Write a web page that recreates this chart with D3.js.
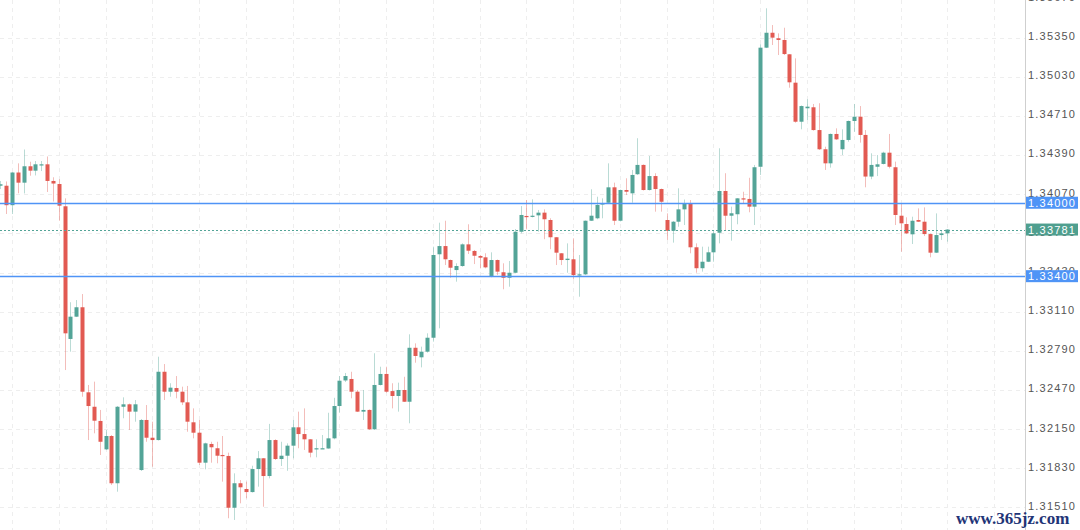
<!DOCTYPE html>
<html>
<head>
<meta charset="utf-8">
<script src="https://cdn.jsdelivr.net/npm/d3@7"></script>
<style>
  html, body { margin: 0; padding: 0; background: #fff; }
  #chart { width: 1080px; height: 530px; overflow: hidden; }
</style>
</head>
<body>
<div id="chart"></div>
<script>
// candle data, oldest first
var opens = [
  1.34139,1.34139,1.33980,1.34247,1.34164,1.34298,1.34262,1.34311,1.34314,1.34178,
  1.34153,1.33971,1.32887,1.33069,1.33146,1.32451,1.32333,1.32217,1.31985,1.32094,
  1.31708,1.32333,1.32353,1.32293,1.31816,1.32225,1.32080,1.32061,1.32619,1.32456,
  1.32486,1.32456,1.32369,1.32206,1.32121,1.31876,1.32029,1.31994,1.31939,1.31931,
  1.31508,1.31708,1.31661,1.31636,1.31824,1.31912,1.31767,1.32061,1.31906,1.31933,
  1.32015,1.32165,1.32110,1.32067,1.31990,1.31990,1.31992,1.32075,1.32339,1.32548,
  1.32560,1.32456,1.32293,1.32307,1.32149,1.32511,1.32601,1.32461,1.32421,1.32470,
  1.32374,1.32815,1.32737,1.32783,1.32897,1.33579,1.33646,1.33532,1.33450,1.33483,
  1.33660,1.33606,1.33565,1.33554,1.33396,1.33532,1.33432,1.33387,1.33428,1.33763,
  1.33892,1.33886,1.33897,1.33919,1.33859,1.33718,1.33587,1.33532,1.33538,1.33409,
  1.33415,1.33853,1.33873,1.33987,1.34000,1.34126,1.33853,1.34104,1.34077,1.34233,
  1.34309,1.34104,1.34218,1.34112,1.33859,1.33771,1.33845,1.33946,1.33994,1.33636,
  1.33465,1.33518,1.33595,1.33755,1.34096,1.33894,1.33906,1.34036,1.34031,1.33968,
  1.34294,1.35267,1.35389,1.35344,1.35330,1.35213,1.34981,1.34662,1.34772,1.34780,
  1.34594,1.34437,1.34322,1.34562,1.34437,1.34513,1.34668,1.34703,1.34554,1.34214,
  1.34294,1.34317,1.34409,1.34290,1.33894,1.33826,1.33742,1.33859,1.33845,1.33744,
  1.33592,1.33736,1.33750
];
var highs = [
  1.34178,1.34174,1.34251,1.34322,1.34435,1.34335,1.34341,1.34341,1.34378,1.34208,
  1.34192,1.34036,1.33187,1.33205,1.33254,1.32511,1.32538,1.32307,1.32143,1.32102,
  1.32339,1.32410,1.32359,1.32388,1.32233,1.32347,1.32211,1.32742,1.32682,1.32525,
  1.32584,1.32497,1.32503,1.32320,1.32225,1.32040,1.32047,1.32047,1.32094,1.31958,
  1.31789,1.31734,1.31721,1.31851,1.31971,1.31914,1.32193,1.32067,1.32047,1.32034,
  1.32225,1.32293,1.32320,1.32069,1.32067,1.32102,1.32284,1.32406,1.32584,1.32609,
  1.32619,1.32470,1.32470,1.32311,1.32770,1.32660,1.32660,1.32525,1.32530,1.32578,
  1.32925,1.32851,1.32824,1.32933,1.33641,1.33837,1.33853,1.33536,1.33505,1.33668,
  1.33824,1.33614,1.33573,1.33587,1.33595,1.33536,1.33505,1.33524,1.33785,1.33973,
  1.34022,1.34028,1.33941,1.33946,1.33873,1.33720,1.33589,1.33668,1.33709,1.33573,
  1.33855,1.34110,1.34049,1.34036,1.34322,1.34164,1.34108,1.34200,1.34268,1.34527,
  1.34313,1.34382,1.34241,1.34116,1.33913,1.33851,1.34118,1.34026,1.34022,1.33668,
  1.33641,1.33641,1.33777,1.34445,1.34241,1.33968,1.34038,1.34090,1.34204,1.34309,
  1.35295,1.35589,1.35452,1.35384,1.35430,1.35215,1.35180,1.34795,1.34845,1.34807,
  1.34813,1.34458,1.34566,1.34608,1.34600,1.34672,1.34807,1.34790,1.34594,1.34404,
  1.34390,1.34417,1.34562,1.34336,1.33995,1.33881,1.33886,1.33954,1.33962,1.33748,
  1.33913,1.33769,1.33785
];
var lows = [
  1.34112,1.33908,1.33908,1.34077,1.34076,1.34221,1.34223,1.34259,1.34088,1.34010,
  1.33853,1.32633,1.32783,1.33066,1.32415,1.32061,1.32116,1.31939,1.31980,1.31694,
  1.31639,1.32239,1.32143,1.32211,1.31808,1.32047,1.31843,1.32057,1.32388,1.32415,
  1.32402,1.32347,1.32129,1.32075,1.31857,1.31822,1.31876,1.31871,1.31721,1.31422,
  1.31408,1.31544,1.31585,1.31632,1.31680,1.31516,1.31748,1.31898,1.31849,1.31810,
  1.31912,1.31994,1.31980,1.31920,1.31920,1.31990,1.31990,1.32067,1.32284,1.32535,
  1.32402,1.32290,1.32225,1.32143,1.32143,1.32507,1.32448,1.32320,1.32293,1.32372,
  1.32198,1.32693,1.32655,1.32775,1.32865,1.32974,1.33491,1.33387,1.33355,1.33477,
  1.33581,1.33499,1.33464,1.33464,1.33391,1.33409,1.33293,1.33314,1.33426,1.33750,
  1.33783,1.33880,1.33763,1.33702,1.33620,1.33491,1.33491,1.33428,1.33374,1.33232,
  1.33409,1.33851,1.33865,1.33873,1.33998,1.33818,1.33847,1.34063,1.34000,1.34227,
  1.34100,1.34100,1.33927,1.33927,1.33696,1.33674,1.33804,1.33818,1.33587,1.33428,
  1.33437,1.33515,1.33518,1.33668,1.33777,1.33690,1.33824,1.33995,1.33922,1.33818,
  1.34227,1.35264,1.35289,1.35207,1.35207,1.34940,1.34654,1.34600,1.34676,1.34589,
  1.34431,1.34268,1.34287,1.34513,1.34390,1.34499,1.34580,1.34491,1.34126,1.34192,
  1.34218,1.34313,1.34281,1.33818,1.33600,1.33744,1.33663,1.33843,1.33728,1.33554,
  1.33589,1.33696,1.33682
];
var closes = [
  1.34151,1.33980,1.34247,1.34164,1.34298,1.34262,1.34314,1.34314,1.34178,1.34157,
  1.33976,1.32933,1.33069,1.33146,1.32456,1.32339,1.32219,1.32047,1.32094,1.31708,
  1.32333,1.32353,1.32293,1.32353,1.32225,1.32080,1.32061,1.32619,1.32456,1.32489,
  1.32456,1.32369,1.32211,1.32121,1.31876,1.32034,1.32002,1.31933,1.31931,1.31508,
  1.31708,1.31675,1.31636,1.31824,1.31912,1.31767,1.32061,1.31906,1.31933,1.32015,
  1.32165,1.32110,1.32067,1.31958,1.31994,1.31994,1.32075,1.32339,1.32546,1.32584,
  1.32456,1.32293,1.32307,1.32149,1.32511,1.32601,1.32456,1.32421,1.32470,1.32374,
  1.32815,1.32748,1.32783,1.32897,1.33573,1.33646,1.33538,1.33469,1.33483,1.33660,
  1.33608,1.33567,1.33551,1.33472,1.33532,1.33437,1.33387,1.33428,1.33763,1.33900,
  1.33886,1.33894,1.33919,1.33865,1.33718,1.33592,1.33532,1.33543,1.33409,1.33415,
  1.33853,1.33894,1.33982,1.33995,1.34126,1.33853,1.34104,1.34090,1.34227,1.34309,
  1.34104,1.34218,1.34112,1.34008,1.33771,1.33845,1.33946,1.33994,1.33636,1.33465,
  1.33518,1.33595,1.33750,1.34096,1.33894,1.33914,1.34036,1.34028,1.33968,1.34290,
  1.35267,1.35389,1.35349,1.35330,1.35215,1.34984,1.34662,1.34790,1.34785,1.34594,
  1.34437,1.34322,1.34562,1.34518,1.34513,1.34668,1.34703,1.34554,1.34214,1.34309,
  1.34314,1.34409,1.34294,1.33900,1.33832,1.33750,1.33853,1.33845,1.33744,1.33592,
  1.33736,1.33750,1.33781
];

// right axis tick labels
var tickLabels = ['1.31510','1.31830','1.32150','1.32470','1.32790','1.33110','1.33430',
                  '1.33750','1.34070','1.34390','1.34710','1.35030','1.35350','1.35670'];

// horizontal levels drawn by the user
var levels = [1.34000, 1.33400];
var lastPrice = closes[closes.length - 1];

var upColor = '#53a497';
var downColor = '#e25a52';
var levelColor = '#4f94f6';

var svgWidth = 1080, svgHeight = 530;
var axisX = 1025;

var data = opens.map(function (o, i) {
    return { i: i, o: o, h: highs[i], l: lows[i], c: closes[i] };
});

var svg = d3.select('#chart').append('svg')
    .attr('width', svgWidth)
    .attr('height', svgHeight);

var x = d3.scaleLinear()
    .domain([0, data.length - 1])
    .range([0.3, 947.3]);

var y = d3.scaleLinear()
    .domain([1.31326, 1.356566])
    .range([svgHeight, 0]);

// grid
var grid = svg.append('g').attr('class', 'grid');

grid.selectAll('.hgrid')
    .data(tickLabels)
    .enter().append('line')
    .attr('x1', 0).attr('x2', axisX)
    .attr('y1', function (d) { return Math.round(y(+d)) + 0.5; })
    .attr('y2', function (d) { return Math.round(y(+d)) + 0.5; })
    .attr('stroke', '#eeeeee')
    .attr('stroke-dasharray', '4,4');

var vIdx = d3.range(2, 175, 8).filter(function (i) { return x(i) < axisX; });
grid.selectAll('.vgrid')
    .data(vIdx)
    .enter().append('line')
    .attr('x1', function (d) { return Math.round(x(d)) + 0.5; })
    .attr('x2', function (d) { return Math.round(x(d)) + 0.5; })
    .attr('y1', 0).attr('y2', svgHeight)
    .attr('stroke', '#eeeeee')
    .attr('stroke-dasharray', '4,4');

// candles
var candles = svg.append('g').selectAll('g')
    .data(data)
    .enter().append('g');

candles.append('line')
    .attr('x1', function (d) { return Math.round(x(d.i)) + 0.5; })
    .attr('x2', function (d) { return Math.round(x(d.i)) + 0.5; })
    .attr('y1', function (d) { return y(d.h); })
    .attr('y2', function (d) { return y(d.l); })
    .attr('stroke', function (d) { return d.c >= d.o ? upColor : downColor; })
    .attr('stroke-opacity', 0.4)
    .attr('stroke-width', 1);

candles.append('rect')
    .attr('x', function (d) { return Math.round(x(d.i)) - 1.5; })
    .attr('width', 4)
    .attr('y', function (d) { return y(Math.max(d.o, d.c)); })
    .attr('height', function (d) { return Math.max(1.2, Math.abs(y(d.o) - y(d.c))); })
    .attr('fill', function (d) { return d.c >= d.o ? upColor : downColor; });

// level lines
svg.selectAll('.level')
    .data(levels)
    .enter().append('line')
    .attr('x1', 0).attr('x2', axisX)
    .attr('y1', function (d) { return Math.round(y(d)) + 0.5; })
    .attr('y2', function (d) { return Math.round(y(d)) + 0.5; })
    .attr('stroke', levelColor)
    .attr('stroke-width', 1.4);

// last price dotted line
svg.append('line')
    .attr('x1', 0).attr('x2', axisX)
    .attr('y1', Math.round(y(lastPrice)) + 0.5)
    .attr('y2', Math.round(y(lastPrice)) + 0.5)
    .attr('stroke', upColor)
    .attr('stroke-dasharray', '2,2');

// right axis
svg.append('rect')
    .attr('x', axisX).attr('y', 0)
    .attr('width', svgWidth - axisX).attr('height', svgHeight)
    .attr('fill', '#fff');

svg.append('line')
    .attr('x1', axisX + 0.5).attr('x2', axisX + 0.5)
    .attr('y1', 0).attr('y2', svgHeight)
    .attr('stroke', '#cfcfcf');

var fontFamily = '"Liberation Sans", Arial, sans-serif';

svg.append('g').selectAll('text')
    .data(tickLabels)
    .enter().append('text')
    .attr('x', axisX + 3)
    .attr('y', function (d) { return y(+d) - 1.5; })
    .attr('dy', '0.36em')
    .attr('font-family', fontFamily)
    .attr('font-size', 11)
    .attr('letter-spacing', 1.2)
    .attr('fill', '#555')
    .text(function (d) { return d; });

var priceTags = levels.map(function (v) { return { v: v, color: levelColor }; })
    .concat([{ v: lastPrice, color: '#4f9f8f' }]);

var tags = svg.append('g').selectAll('g')
    .data(priceTags)
    .enter().append('g');

tags.append('rect')
    .attr('x', axisX + 1)
    .attr('y', function (d) { return y(d.v) - 6; })
    .attr('width', 52)
    .attr('height', 12)
    .attr('fill', function (d) { return d.color; });

tags.append('text')
    .attr('x', axisX + 3)
    .attr('y', function (d) { return y(d.v); })
    .attr('dy', '0.36em')
    .attr('font-family', fontFamily)
    .attr('font-size', 11)
    .attr('letter-spacing', 1.2)
    .attr('fill', '#fff')
    .text(function (d) { return d.v.toFixed(5); });

// watermark
svg.append('text')
    .attr('x', 956)
    .attr('y', 524)
    .attr('font-family', '"Liberation Serif", serif')
    .attr('font-weight', 'bold')
    .attr('font-size', 17)
    .attr('fill', '#1f3577')
    .text('www.365jz.com');
</script>
</body>
</html>
